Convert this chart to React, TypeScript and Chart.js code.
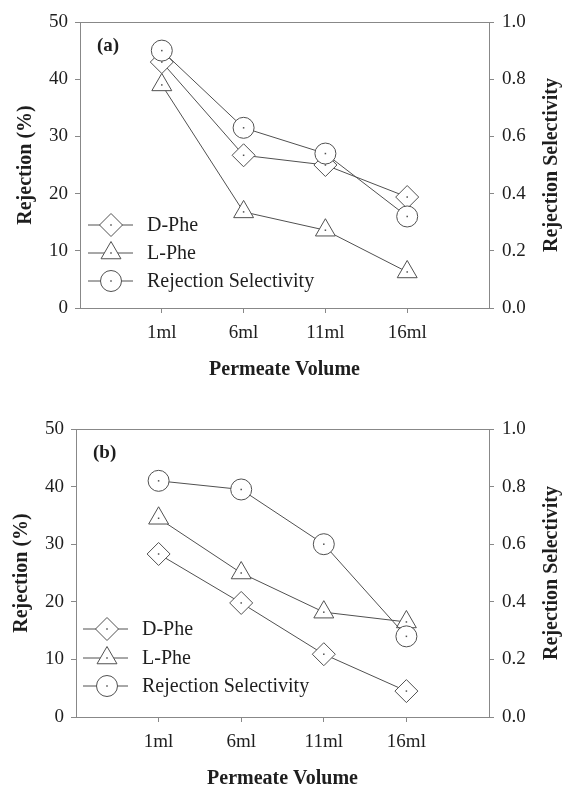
import React, { useEffect, useRef } from "react";
import { Chart, registerables } from "chart.js";

Chart.register(...registerables);

const categories = ["1ml", "6ml", "11ml", "16ml"];
const legendLabels = ["D-Phe", "L-Phe", "Rejection Selectivity"];

// Panel (a)
const dPheA = [43.0, 26.7, 25.0, 19.4];
const lPheA = [39.0, 16.8, 13.6, 6.3];
const selA = [0.9, 0.63, 0.54, 0.32];

// Panel (b)
const dPheB = [28.3, 19.8, 10.9, 4.5];
const lPheB = [34.5, 25.0, 18.2, 16.5];
const selB = [0.82, 0.79, 0.6, 0.28];

const leftTicks = [0, 10, 20, 30, 40, 50];
const rightTicks = [0, 0.2, 0.4, 0.6, 0.8, 1.0];

const SERIF = "'Liberation Serif', 'Times New Roman', serif";
const LINE = "#505050";
const AXIS = "#888";
const TEXT = "#1e1e1e";

const R_CIRCLE = 10.5;
const R_DIAMOND = 11.5;
const R_TRI = 11.5;

function drawMarker(ctx: CanvasRenderingContext2D, style: string, x: number, y: number) {
  ctx.beginPath();
  if (style === "circle") {
    ctx.arc(x, y, R_CIRCLE, 0, Math.PI * 2);
  } else if (style === "rectRot") {
    ctx.moveTo(x, y - R_DIAMOND);
    ctx.lineTo(x + R_DIAMOND, y);
    ctx.lineTo(x, y + R_DIAMOND);
    ctx.lineTo(x - R_DIAMOND, y);
    ctx.closePath();
  } else {
    const s = Math.sin(Math.PI / 3) * R_TRI;
    ctx.moveTo(x, y - R_TRI);
    ctx.lineTo(x + s, y + R_TRI / 2);
    ctx.lineTo(x - s, y + R_TRI / 2);
    ctx.closePath();
  }
  ctx.fillStyle = "#fff";
  ctx.fill();
  ctx.strokeStyle = LINE;
  ctx.lineWidth = 1;
  ctx.stroke();
  ctx.fillStyle = LINE;
  ctx.fillRect(x - 0.75, y - 0.75, 1.5, 1.5);
}

type PanelProps = {
  height: number;
  padTop: number;
  leftW: number;
  xH: number;
  tag: string;
  dPhe: number[];
  lPhe: number[];
  sel: number[];
  legend: { lineL: number; lineR: number; marker: number; text: number; ys: number[] };
};

function Panel(p: PanelProps) {
  const ref = useRef<HTMLCanvasElement | null>(null);

  useEffect(() => {
    if (!ref.current) return;
    const toPts = (arr: number[]) => arr.map((v, i) => ({ x: i + 1, y: v }));
    const styles = ["rectRot", "triangle", "circle"];

    const overlay = {
      id: "overlay",
      afterDatasetsDraw(chart: any) {
        const ctx = chart.ctx as CanvasRenderingContext2D;
        const a = chart.chartArea;
        ctx.save();
        // center dots
        chart.data.datasets.forEach((_: any, di: number) => {
          const meta = chart.getDatasetMeta(di);
          meta.data.forEach((pt: any) => {
            ctx.fillStyle = LINE;
            ctx.fillRect(pt.x - 0.75, pt.y - 0.75, 1.5, 1.5);
          });
        });
        // top border
        ctx.strokeStyle = AXIS;
        ctx.lineWidth = 1;
        ctx.beginPath();
        ctx.moveTo(a.left, a.top + 0.5);
        ctx.lineTo(a.right, a.top + 0.5);
        ctx.stroke();

        // legend
        const lg = p.legend;
        legendLabels.forEach((lab, i) => {
          const y = a.bottom + lg.ys[i];
          ctx.strokeStyle = LINE;
          ctx.lineWidth = 1;
          ctx.beginPath();
          ctx.moveTo(a.left + lg.lineL, y);
          ctx.lineTo(a.left + lg.lineR, y);
          ctx.stroke();
          drawMarker(ctx, styles[i], a.left + lg.marker, y);
          ctx.fillStyle = TEXT;
          ctx.font = `20px ${SERIF}`;
          ctx.textAlign = "left";
          ctx.textBaseline = "middle";
          ctx.fillText(lab, a.left + lg.text, y + 1);
        });

        // panel tag
        ctx.fillStyle = TEXT;
        ctx.font = `bold 19px ${SERIF}`;
        ctx.textAlign = "left";
        ctx.textBaseline = "middle";
        ctx.fillText(p.tag, a.left + 17, a.top + 24);

        // axis titles
        ctx.font = `bold 20px ${SERIF}`;
        ctx.textAlign = "center";
        ctx.textBaseline = "middle";
        ctx.fillText("Permeate Volume", (a.left + a.right) / 2, a.bottom + 62);

        const cy = (a.top + a.bottom) / 2;
        ctx.save();
        ctx.translate(a.left - 54, cy);
        ctx.rotate(-Math.PI / 2);
        ctx.fillText("Rejection (%)", 0, 0);
        ctx.restore();

        ctx.save();
        ctx.translate(a.right + 63, cy);
        ctx.rotate(-Math.PI / 2);
        ctx.fillText("Rejection Selectivity", 0, 0);
        ctx.restore();

        ctx.restore();
      },
    };

    const common = {
      borderColor: LINE,
      borderWidth: 1,
      pointBorderColor: LINE,
      pointBackgroundColor: "#fff",
      pointBorderWidth: 1,
      tension: 0,
      fill: false,
    };

    const chart = new Chart(ref.current, {
      type: "line",
      data: {
        datasets: [
          { ...common, label: legendLabels[2], data: toPts(p.sel), yAxisID: "y1", pointStyle: "circle", pointRadius: R_CIRCLE, pointHoverRadius: R_CIRCLE },
          { ...common, label: legendLabels[0], data: toPts(p.dPhe), yAxisID: "y", pointStyle: "rectRot", pointRadius: R_DIAMOND, pointHoverRadius: R_DIAMOND },
          { ...common, label: legendLabels[1], data: toPts(p.lPhe), yAxisID: "y", pointStyle: "triangle", pointRadius: R_TRI, pointHoverRadius: R_TRI },
        ],
      },
      options: {
        responsive: false,
        animation: false,
        events: [],
        layout: { padding: { top: p.padTop, left: 0, right: 0, bottom: 0 } },
        plugins: { legend: { display: false }, tooltip: { enabled: false } },
        scales: {
          x: {
            type: "linear",
            min: 0,
            max: 5,
            afterBuildTicks: (scale: any) => {
              scale.ticks = categories.map((_, i) => ({ value: i + 1 }));
            },
            afterFit: (scale: any) => {
              scale.height = p.xH;
            },
            ticks: {
              callback: (v: any) => categories[Number(v) - 1] ?? "",
              color: TEXT,
              font: { family: SERIF, size: 19 },
              padding: 9,
              maxRotation: 0,
              autoSkip: false,
            },
            grid: { drawOnChartArea: false, drawTicks: true, tickLength: 5, color: AXIS },
            border: { display: true, color: AXIS, width: 1 },
          },
          y: {
            type: "linear",
            position: "left",
            min: 0,
            max: 50,
            afterBuildTicks: (scale: any) => {
              scale.ticks = leftTicks.map((v) => ({ value: v }));
            },
            afterFit: (scale: any) => {
              scale.width = p.leftW;
            },
            ticks: {
              callback: (v: any) => String(v),
              color: TEXT,
              font: { family: SERIF, size: 19 },
              padding: 7,
            },
            grid: { drawOnChartArea: false, drawTicks: true, tickLength: 5, color: AXIS },
            border: { display: true, color: AXIS, width: 1 },
          },
          y1: {
            type: "linear",
            position: "right",
            min: 0,
            max: 1,
            afterBuildTicks: (scale: any) => {
              scale.ticks = rightTicks.map((v) => ({ value: v }));
            },
            afterFit: (scale: any) => {
              scale.width = 74;
            },
            ticks: {
              callback: (v: any) => Number(v).toFixed(1),
              color: TEXT,
              font: { family: SERIF, size: 19 },
              padding: 8,
            },
            grid: { drawOnChartArea: false, drawTicks: true, tickLength: 5, color: AXIS },
            border: { display: true, color: AXIS, width: 1 },
          },
        },
      } as any,
      plugins: [overlay],
    });
    return () => chart.destroy();
  }, []);

  return (
    <canvas
      ref={ref}
      width={563}
      height={p.height}
      style={{ display: "block", width: 563, height: p.height }}
    />
  );
}

export default function App() {
  return (
    <div style={{ position: "absolute", left: 0, top: 0, width: 563, height: 785, background: "#fff" }}>
      <Panel
        height={380}
        padTop={22}
        leftW={80}
        xH={72}
        tag="(a)"
        dPhe={dPheA}
        lPhe={lPheA}
        sel={selA}
        legend={{ lineL: 8, lineR: 53, marker: 31, text: 67, ys: [-83, -55, -27] }}
      />
      <Panel
        height={405}
        padTop={49}
        leftW={76}
        xH={68}
        tag="(b)"
        dPhe={dPheB}
        lPhe={lPheB}
        sel={selB}
        legend={{ lineL: 7, lineR: 52, marker: 31, text: 66, ys: [-88, -59, -31] }}
      />
    </div>
  );
}
